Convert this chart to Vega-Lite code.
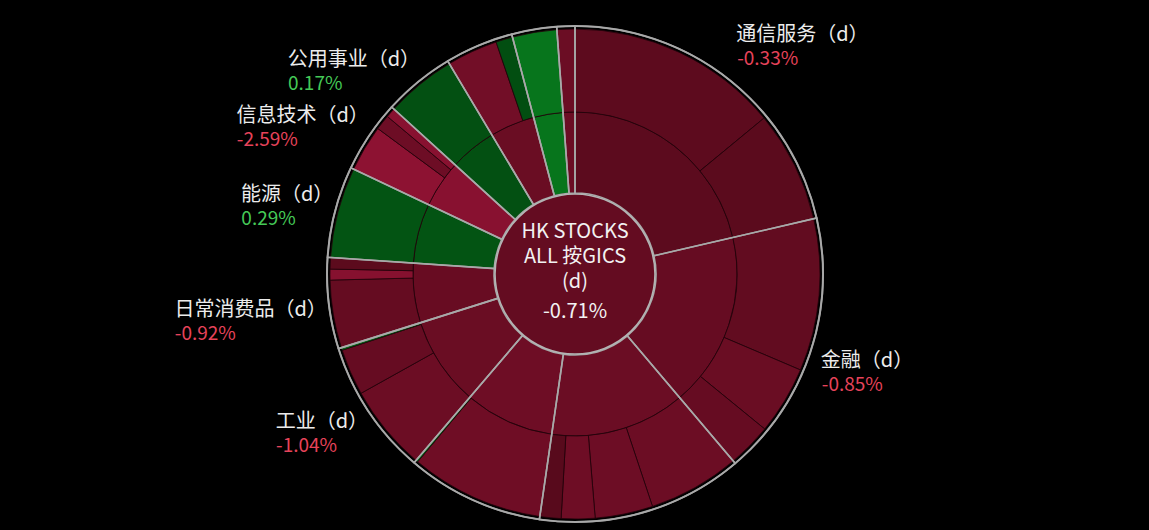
{
  "$schema": "https://vega.github.io/schema/vega-lite/v6.json",
  "description": "HK stocks sunburst by GICS sector / industry group, daily change",
  "width": 1149,
  "height": 530,
  "autosize": {"type": "fit", "contains": "padding"},
  "padding": {"left": 1, "top": 4, "right": 0, "bottom": 0},
  "background": "#000000",
  "datasets": {
    "total": [
      {"name": "HK STOCKS ALL 按GICS (d)", "change": -0.0071}
    ],
    "sectors": [
      {"sidx": 1, "sector": "通信服务", "label": "通信服务（d）", "change": -0.0033},
      {"sidx": 2, "sector": "金融", "label": "金融（d）", "change": -0.0085},
      {"sidx": 3, "sector": "可选消费", "label": "可选消费（d）", "change": -0.0110},
      {"sidx": 4, "sector": "房地产", "label": "房地产（d）", "change": -0.0124},
      {"sidx": 5, "sector": "工业", "label": "工业（d）", "change": -0.0104},
      {"sidx": 6, "sector": "日常消费品", "label": "日常消费品（d）", "change": -0.0092},
      {"sidx": 7, "sector": "能源", "label": "能源（d）", "change": 0.0029},
      {"sidx": 8, "sector": "信息技术", "label": "信息技术（d）", "change": -0.0259},
      {"sidx": 9, "sector": "公用事业", "label": "公用事业（d）", "change": 0.0017},
      {"sidx": 10, "sector": "原材料", "label": "原材料（d）", "change": -0.0105},
      {"sidx": 11, "sector": "医疗保健", "label": "医疗保健（d）", "change": 0.0130},
      {"sidx": 12, "sector": "综合企业", "label": "综合企业（d）", "change": -0.0110}
    ],
    "industries": [
      {"idx": 1, "sector": "通信服务", "industry": "媒体与娱乐", "weight": 14.03, "change": -0.0038},
      {"idx": 2, "sector": "通信服务", "industry": "电信服务", "weight": 7.36, "change": -0.0025},
      {"idx": 3, "sector": "金融", "industry": "银行", "weight": 10.03, "change": -0.0062},
      {"idx": 4, "sector": "金融", "industry": "保险", "weight": 4.50, "change": -0.0105},
      {"idx": 5, "sector": "金融", "industry": "多元金融", "weight": 2.92, "change": -0.0085},
      {"idx": 6, "sector": "可选消费", "industry": "零售业", "weight": 6.06, "change": -0.0115},
      {"idx": 7, "sector": "可选消费", "industry": "汽车与汽车零部件", "weight": 3.81, "change": -0.0120},
      {"idx": 8, "sector": "可选消费", "industry": "消费者服务", "weight": 2.22, "change": -0.0125},
      {"idx": 9, "sector": "可选消费", "industry": "耐用消费品与服装", "weight": 1.39, "change": -0.0010},
      {"idx": 10, "sector": "房地产", "industry": "房地产管理和开发", "weight": 8.81, "change": -0.0130},
      {"idx": 11, "sector": "房地产", "industry": "房地产投资信托", "weight": 0.14, "change": 0.0090},
      {"idx": 12, "sector": "工业", "industry": "资本货物", "weight": 5.67, "change": -0.0115},
      {"idx": 13, "sector": "工业", "industry": "运输", "weight": 3.06, "change": -0.0085},
      {"idx": 14, "sector": "工业", "industry": "商业和专业服务", "weight": 0.17, "change": 0.0090},
      {"idx": 15, "sector": "日常消费品", "industry": "食品、饮料与烟草", "weight": 4.47, "change": -0.0075},
      {"idx": 16, "sector": "日常消费品", "industry": "家庭与个人用品", "weight": 0.72, "change": -0.0250},
      {"idx": 17, "sector": "日常消费品", "industry": "食品与主要用品零售", "weight": 0.75, "change": -0.0030},
      {"idx": 18, "sector": "能源", "industry": "能源", "weight": 5.97, "change": 0.0029},
      {"idx": 19, "sector": "信息技术", "industry": "技术硬件与设备", "weight": 3.08, "change": -0.0285},
      {"idx": 20, "sector": "信息技术", "industry": "软件与服务", "weight": 1.00, "change": -0.0120},
      {"idx": 21, "sector": "信息技术", "industry": "半导体产品与设备", "weight": 0.64, "change": -0.0260},
      {"idx": 22, "sector": "公用事业", "industry": "公用事业", "weight": 4.67, "change": 0.0017},
      {"idx": 23, "sector": "原材料", "industry": "金属与采矿", "weight": 3.36, "change": -0.0145},
      {"idx": 24, "sector": "原材料", "industry": "化工", "weight": 1.11, "change": 0.0012},
      {"idx": 25, "sector": "医疗保健", "industry": "制药、生物科技和生命科学", "weight": 2.93, "change": 0.0130},
      {"idx": 26, "sector": "综合企业", "industry": "综合企业", "weight": 1.18, "change": -0.0110}
    ]
  },
  "layer": [
    {
      "description": "outer halo ring",
      "data": {"name": "total"},
      "mark": {"type": "arc", "theta": 0, "theta2": 6.2832, "innerRadius": 0, "outerRadius": 248, "fill": "#000000", "stroke": "#9c9c9c", "strokeWidth": 2},
      "encoding": {}
    },
    {
      "description": "sector ring",
      "data": {"name": "industries"},
      "transform": [
        {"aggregate": [{"op": "sum", "field": "weight", "as": "weight"}], "groupby": ["sector"]},
        {"lookup": "sector", "from": {"data": {"name": "sectors"}, "key": "sector", "fields": ["sidx", "label", "change"]}}
      ],
      "mark": {"type": "arc", "innerRadius": 81, "outerRadius": 162, "stroke": "#22030a", "strokeWidth": 0.8},
      "encoding": {
        "theta": {"field": "weight", "type": "quantitative", "stack": true},
        "order": {"field": "sidx", "type": "quantitative"},
        "detail": {"field": "sector"},
        "fill": {
          "field": "change", "type": "quantitative", "legend": null,
          "scale": {"type": "linear", "domain": [-0.03, 0, 0.00001, 0.02], "range": ["#901233", "#560a1b", "#024a10", "#098c22"], "interpolate": "rgb", "clamp": true}
        }
      }
    },
    {
      "description": "industry ring",
      "data": {"name": "industries"},
      "mark": {"type": "arc", "innerRadius": 162, "outerRadius": 245, "stroke": "#22030a", "strokeWidth": 0.8},
      "encoding": {
        "theta": {"field": "weight", "type": "quantitative", "stack": true},
        "order": {"field": "idx", "type": "quantitative"},
        "detail": {"field": "industry"},
        "fill": {"field": "change", "type": "quantitative", "legend": null}
      }
    },
    {
      "description": "sector outlines",
      "data": {"name": "industries"},
      "transform": [
        {"aggregate": [{"op": "sum", "field": "weight", "as": "weight"}], "groupby": ["sector"]},
        {"lookup": "sector", "from": {"data": {"name": "sectors"}, "key": "sector", "fields": ["sidx"]}}
      ],
      "mark": {"type": "arc", "innerRadius": 81, "outerRadius": 248, "fill": "#000000", "fillOpacity": 0, "stroke": "#a9a9a9", "strokeWidth": 1.6},
      "encoding": {
        "theta": {"field": "weight", "type": "quantitative", "stack": true},
        "order": {"field": "sidx", "type": "quantitative"},
        "detail": {"field": "sector"}
      }
    },
    {
      "description": "centre disc",
      "data": {"name": "total"},
      "mark": {"type": "arc", "theta": 0, "theta2": 6.2832, "innerRadius": 0, "outerRadius": 80, "stroke": "#b4b4b4", "strokeWidth": 1.6},
      "encoding": {
        "fill": {"field": "change", "type": "quantitative", "legend": null}
      }
    },
    {
      "data": {"name": "total"},
      "mark": {"type": "text", "font": "Noto Sans CJK SC", "fontSize": 20, "fill": "#f2f2f2", "align": "center", "baseline": "middle", "lineHeight": 25, "dy": -42},
      "encoding": {"text": {"value": ["HK STOCKS", "ALL 按GICS", "(d)"]}}
    },
    {
      "data": {"name": "total"},
      "mark": {"type": "text", "font": "Noto Sans CJK SC", "fontSize": 20, "fill": "#f2f2f2", "align": "center", "baseline": "middle", "dy": 38},
      "encoding": {"text": {"field": "change", "type": "quantitative", "format": ".2%"}}
    },
    {
      "description": "sector names",
      "data": {"name": "industries"},
      "transform": [
        {"aggregate": [{"op": "sum", "field": "weight", "as": "weight"}], "groupby": ["sector"]},
        {"lookup": "sector", "from": {"data": {"name": "sectors"}, "key": "sector", "fields": ["sidx", "label", "change"]}}
      ],
      "mark": {
        "type": "text", "radius": 259, "font": "Noto Sans CJK SC", "fontSize": 20, "fill": "#ececec", "baseline": "middle",
        "align": {"expr": "datum.sidx <= 2 ? 'left' : 'right'"},
        "dx": {"expr": "datum.sidx <= 2 ? 0 : 9"},
        "dy": {"expr": "datum.sidx == 1 ? -36 : (datum.sidx == 2 || datum.sidx == 5 || datum.sidx == 6) ? 5 : -14"}
      },
      "encoding": {
        "theta": {"field": "weight", "type": "quantitative", "stack": true},
        "order": {"field": "sidx", "type": "quantitative"},
        "detail": {"field": "sector"},
        "text": {
          "field": "label", "type": "nominal",
          "condition": {"test": "indexof(['可选消费', '房地产', '原材料', '医疗保健', '综合企业'], datum.sector) >= 0", "value": ""}
        }
      }
    },
    {
      "description": "sector changes",
      "data": {"name": "industries"},
      "transform": [
        {"aggregate": [{"op": "sum", "field": "weight", "as": "weight"}], "groupby": ["sector"]},
        {"lookup": "sector", "from": {"data": {"name": "sectors"}, "key": "sector", "fields": ["sidx", "label", "change"]}}
      ],
      "mark": {
        "type": "text", "radius": 259, "font": "Noto Sans CJK SC", "fontSize": 19, "baseline": "middle", "align": "left",
        "dx": {"expr": "datum.sidx <= 2 ? 1 : 17 - 20 * length(datum.label)"},
        "dy": {"expr": "datum.sidx == 1 ? -12 : (datum.sidx == 2 || datum.sidx == 5 || datum.sidx == 6) ? 29 : 10"}
      },
      "encoding": {
        "theta": {"field": "weight", "type": "quantitative", "stack": true},
        "order": {"field": "sidx", "type": "quantitative"},
        "detail": {"field": "sector"},
        "text": {
          "field": "change", "type": "quantitative", "format": ".2%",
          "condition": {"test": "indexof(['可选消费', '房地产', '原材料', '医疗保健', '综合企业'], datum.sector) >= 0", "value": ""}
        },
        "color": {
          "field": "change", "type": "quantitative", "legend": null,
          "scale": {"type": "threshold", "domain": [0], "range": ["#e6435a", "#45c957"]}
        }
      }
    }
  ],
  "config": {
    "view": {"stroke": null},
    "locale": {"number": {"decimal": ".", "thousands": ",", "grouping": [3], "currency": ["", ""], "minus": "-"}}
  }
}
